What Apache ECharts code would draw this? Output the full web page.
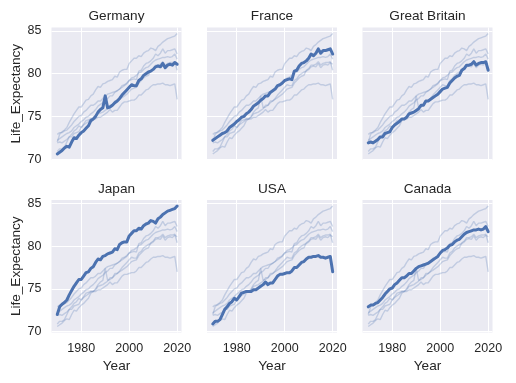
<!DOCTYPE html>
<html><head><meta charset="utf-8">
<script src="https://cdn.jsdelivr.net/npm/echarts@6/dist/echarts.min.js"></script>
<style>html,body{margin:0;padding:0;background:#fff}#c{width:516px;height:383px}</style>
</head><body><div id="c"></div>
<script>
const years = [1970,1971,1972,1973,1974,1975,1976,1977,1978,1979,
  1980,1981,1982,1983,1984,1985,1986,1987,1988,1989,
  1990,1991,1992,1993,1994,1995,1996,1997,1998,1999,
  2000,2001,2002,2003,2004,2005,2006,2007,2008,2009,
  2010,2011,2012,2013,2014,2015,2016,2017,2018,2019,2020];
const countries = ["Germany","France","Great Britain","Japan","USA","Canada"];
const germany = [70.6,70.8,71.0,71.3,71.5,71.4,72.0,72.5,72.4,72.8,
  73.1,73.3,73.6,73.9,74.5,74.7,75.0,75.5,75.8,76.0,
  77.4,76.0,76.1,76.3,76.6,76.8,77.1,77.5,77.8,78.1,
  78.4,78.7,78.6,78.6,79.2,79.4,79.8,80.0,80.2,80.3,
  80.5,80.8,80.9,80.8,81.2,80.7,81.0,81.1,81.0,81.3,81.1];
const france = [72.2,72.4,72.6,72.8,73.0,73.1,73.3,73.7,73.9,74.1,
  74.4,74.6,74.9,75.0,75.3,75.5,75.8,76.2,76.4,76.6,
  76.9,77.1,77.4,77.4,77.8,78.0,78.2,78.6,78.7,78.9,
  79.2,79.3,79.4,79.3,80.3,80.4,80.9,81.2,81.3,81.5,
  81.8,82.3,82.1,82.4,82.9,82.4,82.7,82.7,82.8,82.9,82.3];
const greatBritain = [71.9,72.0,71.9,72.1,72.3,72.6,72.6,73.0,73.1,73.2,
  73.7,74.0,74.2,74.4,74.7,74.7,74.9,75.3,75.4,75.5,
  75.7,75.9,76.3,76.3,76.8,76.8,77.0,77.2,77.4,77.6,
  77.9,78.2,78.3,78.4,78.9,79.2,79.5,79.7,79.8,80.4,
  80.6,81.0,81.0,81.1,81.4,81.0,81.2,81.3,81.3,81.4,80.4];
const japan = [72.0,72.9,73.2,73.4,73.7,74.3,74.8,75.3,75.7,76.1,
  76.1,76.5,76.9,77.0,77.4,77.6,78.1,78.5,78.4,78.8,
  78.9,79.1,79.2,79.3,79.7,79.6,80.2,80.4,80.5,80.5,
  81.2,81.5,81.8,81.8,82.1,82.0,82.4,82.6,82.7,83.0,
  82.9,82.7,83.2,83.4,83.7,83.9,84.1,84.2,84.3,84.4,84.7];
const usa = [70.9,71.2,71.2,71.4,72.0,72.6,72.9,73.3,73.5,73.9,
  73.7,74.1,74.5,74.6,74.7,74.7,74.7,74.9,74.9,75.1,
  75.3,75.5,75.8,75.5,75.7,75.7,76.1,76.5,76.7,76.7,
  76.8,76.9,76.9,77.1,77.5,77.5,77.8,78.1,78.2,78.5,
  78.7,78.7,78.8,78.8,78.9,78.7,78.7,78.6,78.7,78.8,77.0];
const canada = [72.9,73.1,73.1,73.3,73.4,73.7,74.0,74.4,74.7,75.0,
  75.1,75.5,75.7,76.0,76.3,76.3,76.5,76.8,76.8,77.1,
  77.4,77.6,77.7,77.8,77.9,78.0,78.2,78.4,78.6,78.8,
  79.2,79.5,79.6,79.8,80.1,80.2,80.5,80.7,80.8,81.1,
  81.4,81.6,81.7,81.8,81.9,81.9,82.0,81.9,82.0,82.3,81.7];
const xTicks = [1980, 2000, 2020];
const yTicks = [70, 75, 80, 85];
const allValues = [germany, france, greatBritain, japan, usa, canada];

const BLUE = '#4C72B0';
const TXT = '#262626';
const FONT = 'Liberation Sans, Arial, sans-serif';
const lefts = [51.5, 207, 362.5];
const tops = [27.5, 200];
const W = 130, H = 132.5;

const grids = [], xAxes = [], yAxes = [], titles = [], series = [];
for (let i = 0; i < 6; i++) {
  const r = Math.floor(i / 3), c = i % 3;
  grids.push({left: lefts[c], top: tops[r], width: W, height: H, show: true,
    backgroundColor: '#EAEAF2', borderWidth: 0, containLabel: false});
  xAxes.push({type: 'value', gridIndex: i, min: 1967.6, max: 2021.8,
    axisLine: {show: false},
    axisTick: {show: false, customValues: xTicks},
    axisLabel: {show: r === 1, customValues: xTicks, formatter: v => String(v),
      color: TXT, fontSize: 12.5, fontFamily: FONT, margin: 10},
    splitLine: {show: true, lineStyle: {color: '#ffffff', width: 1}},
    name: r === 1 ? 'Year' : '', nameLocation: 'middle', nameGap: 27,
    nameTextStyle: {color: TXT, fontSize: 13.6, fontFamily: FONT}
  });
  yAxes.push({type: 'value', gridIndex: i, min: 69.895, max: 85.405,
    axisLine: {show: false},
    axisTick: {show: false, customValues: yTicks},
    axisLabel: {show: c === 0, customValues: yTicks, formatter: v => String(v),
      color: TXT, fontSize: 12.5, fontFamily: FONT, margin: 10},
    splitLine: {show: true, lineStyle: {color: '#ffffff', width: 1}},
    name: c === 0 ? 'Life_Expectancy' : '', nameLocation: 'middle', nameGap: 28.5,
    nameTextStyle: {color: TXT, fontSize: 13.6, fontFamily: FONT}
  });
  titles.push({text: countries[i], left: lefts[c] + W / 2, top: tops[r] - 18, textAlign: 'center',
    padding: 0,
    textStyle: {color: TXT, fontSize: 13.6, fontWeight: 'normal', fontFamily: FONT}});
  for (let j = 0; j < 6; j++) {
    series.push({type: 'line', xAxisIndex: i, yAxisIndex: i, showSymbol: false, silent: true, z: 2,
      data: years.map((y, k) => [y, allValues[j][k]]),
      lineStyle: {color: 'rgba(76,114,176,0.26)', width: 1.4}});
  }
  series.push({type: 'line', xAxisIndex: i, yAxisIndex: i, showSymbol: false, silent: true, z: 5,
    data: years.map((y, k) => [y, allValues[i][k]]),
    lineStyle: {color: BLUE, width: 3, join: 'round', cap: 'round'}});
}

const chart = echarts.init(document.getElementById('c'), null, {renderer: 'canvas'});
chart.setOption({animation: false, backgroundColor: '#ffffff', textStyle: {fontFamily: FONT},
  title: titles, grid: grids, xAxis: xAxes, yAxis: yAxes, series: series});
</script></body></html>
